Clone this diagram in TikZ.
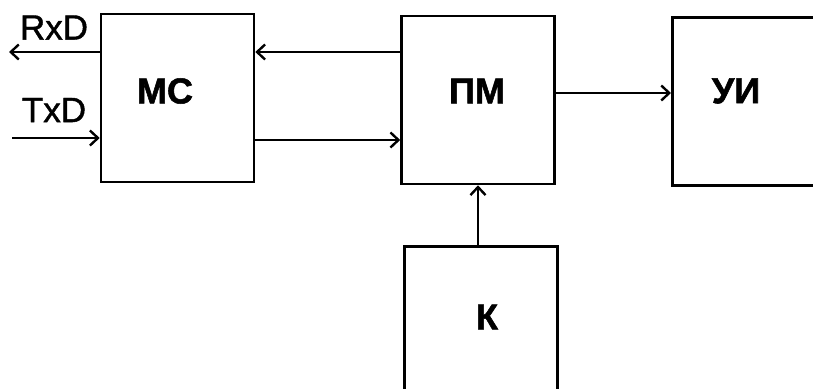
\documentclass[tikz,border=0pt]{standalone}
\usepackage{fontspec}
\setmainfont{Liberation Sans}
\newfontfamily\heavyfont{Liberation Sans Bold}[FakeBold=1.5]
\newfontfamily\sigfont{Liberation Sans}[FakeBold=1.2]
\usetikzlibrary{arrows.meta}
\begin{document}
\begin{tikzpicture}[x=1pt,y=-1pt,
  blk/.style={draw, line width=2.6pt, minimum width=153pt, minimum height=168pt, inner sep=0pt},
  lbl/.style={font=\fontsize{36}{36}\heavyfont, inner sep=0pt},
  sig/.style={font=\fontsize{35}{35}\sigfont, inner sep=0pt},
  conn/.style={line width=2.4pt, -{Straight Barb[length=8pt,width=15pt,line width=2.4pt]}}]
\useasboundingbox (0,0) rectangle (813,388);
\clip (0,0) rectangle (813,388);
\node[blk] (mc) at (177.5,98) {};
\node[blk] (pm) at (478,100) {};
\node[blk, minimum width=160pt, anchor=north west] (ui) at (671,16) {};
\node[blk, minimum height=170pt, anchor=north west] (k) at (403,245) {};
\node[lbl] (tmc) at (165,91) {МС};
\node[lbl] (tpm) at (477,91) {ПМ};
\node[lbl] (tui) at (736,91) {УИ};
\node[lbl] (tk) at (487,317) {К};
\node[sig] (rxd) at (54,27.5) {RxD};
\node[sig] (txd) at (54,110) {TxD};
\coordinate (rxe) at (9,52);
\coordinate (txs) at (12,138);
\draw[conn] (mc.west |- rxe) -- (rxe);
\draw[conn] (txs) -- (mc.west |- txs);
\draw[conn] (pm.west |- 0,52) -- (mc.east |- 0,52);
\draw[conn] (mc.east |- 0,140) -- (pm.west |- 0,140);
\draw[conn] (pm.east |- 0,93) -- (ui.west |- 0,93);
\draw[conn] (k.north -| 478,0) -- (pm.south -| 478,0);
\end{tikzpicture}
\end{document}
